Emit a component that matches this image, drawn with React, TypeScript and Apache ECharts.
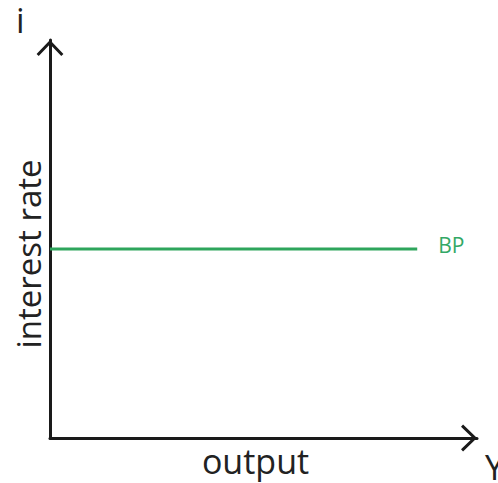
import { useEffect, useRef } from 'react';
import * as echarts from 'echarts';

const bpOutput = [0, 8.6];
const bpRate = [4.75, 4.75];
const curveName = 'BP';
const xName = 'output';
const yName = 'interest rate';
const xEndLabel = 'Y';
const yEndLabel = 'i';
const axisRange = [0, 10];

export default function App() {
  const ref = useRef<HTMLDivElement>(null);
  useEffect(() => {
    const chart = echarts.init(ref.current!, null, { renderer: 'svg' });
    const chevron = 'path://M13.5,0 L27,14 L24.84,16.08 L13.5,4.32 L2.16,16.08 L0,14 Z';
    const axisColor = '#1a1a1a';
    const textColor = '#222';
    const font = 'Open Sans';
    const axisCommon = {
      type: 'value' as const,
      min: axisRange[0],
      max: axisRange[1],
      nameLocation: 'middle' as const,
      axisLine: {
        show: true,
        onZero: false,
        lineStyle: { color: axisColor, width: 3 },
        symbol: ['none', chevron],
        symbolSize: [27, 16],
        symbolOffset: [0, -8],
      },
      axisTick: { show: false },
      axisLabel: { show: false },
      splitLine: { show: false },
    };
    chart.setOption({
      animation: false,
      grid: { left: 50, right: 21, top: 40, bottom: 45 },
      xAxis: {
        ...axisCommon,
        name: xName,
        nameGap: 6,
        nameTextStyle: { fontFamily: font, fontSize: 34, color: textColor, padding: [0, 16, 0, 0] },
      },
      yAxis: {
        ...axisCommon,
        name: yName,
        nameGap: 5,
        nameRotate: 90,
        nameTextStyle: { fontFamily: font, fontSize: 33, color: textColor, padding: [0, 30, 0, 0] },
      },
      graphic: [
        { type: 'text', left: 16, top: 3, style: { text: yEndLabel, fontFamily: font, fontSize: 34, fill: textColor } },
        { type: 'text', left: 485, top: 450, style: { text: xEndLabel, fontFamily: font, fontSize: 34, fill: textColor } },
      ],
      series: [
        {
          type: 'line',
          name: curveName,
          data: bpOutput.map((x, i) => [x, bpRate[i]]),
          showSymbol: false,
          lineStyle: { color: '#2ea55c', width: 3 },
          endLabel: {
            show: true,
            formatter: curveName,
            fontFamily: font,
            fontSize: 21,
            color: '#33a866',
            offset: [13, -4],
          },
        },
      ],
    });
    return () => chart.dispose();
  }, []);
  return <div ref={ref} style={{ position: 'absolute', left: 0, top: 0, width: 498, height: 483 }} />;
}
